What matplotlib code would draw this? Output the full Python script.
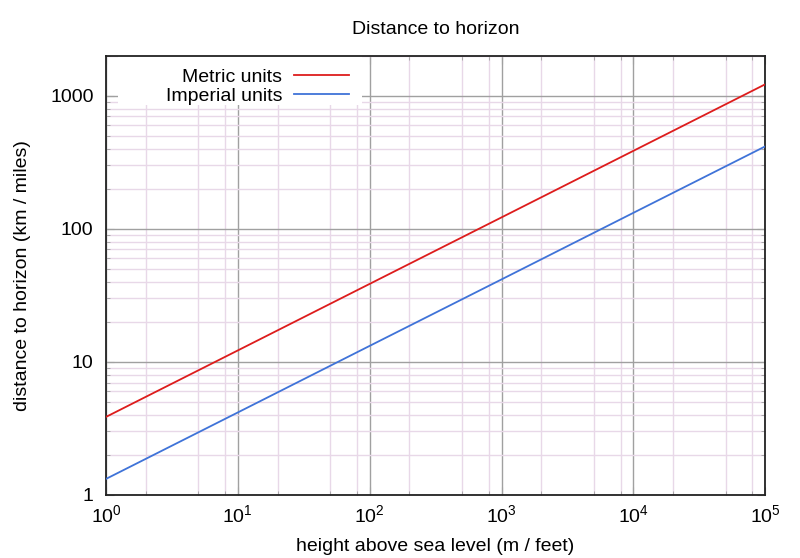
import math

import matplotlib
matplotlib.use('Agg')
import matplotlib.pyplot as plt
from matplotlib.patches import Rectangle
from matplotlib.ticker import LogLocator, FixedLocator, NullFormatter, FuncFormatter

plt.rcParams['font.family'] = ['Liberation Sans', 'DejaVu Sans']
plt.rcParams['mathtext.fontset'] = 'custom'
plt.rcParams['mathtext.rm'] = 'Liberation Sans'
plt.rcParams['mathtext.it'] = 'Liberation Sans'
plt.rcParams['mathtext.default'] = 'rm'

# values
heights = [1, 10, 100, 1000, 10000, 100000]
metric_km = [3.86, 12.2, 38.6, 122, 386, 1221]
imperial_mi = [1.32, 4.17, 13.2, 41.7, 132, 417]

x_minor = [m * 10 ** e for e in range(0, 5) for m in (2, 5, 8)]
y_ticks = [1, 10, 100, 1000]
y_tick_labels = ['1', '10', '100', '1000']

fig = plt.figure(figsize=(8, 5.58), dpi=100)
ax = fig.add_axes([0.1325, 0.113, 0.824, 0.787])

ax.plot(heights, metric_km, color='#dd1c1c', lw=1.3, label='Metric units', zorder=3)
ax.plot(heights, imperial_mi, color='#3f73d8', lw=1.3, label='Imperial units', zorder=3)

ax.set_xscale('log')
ax.set_yscale('log')
ax.set_xlim(1, 1e5)
ax.set_ylim(1, 2000)

ax.xaxis.set_major_locator(LogLocator(base=10, numticks=10))
ax.xaxis.set_major_formatter(FuncFormatter(lambda v, p: '10$^{%d}$' % round(math.log10(v))))
ax.xaxis.set_minor_locator(FixedLocator(x_minor))
ax.xaxis.set_minor_formatter(NullFormatter())
ax.yaxis.set_major_locator(FixedLocator(y_ticks))
ax.yaxis.set_major_formatter(FuncFormatter(lambda v, p: y_tick_labels[y_ticks.index(v)] if v in y_ticks else ''))
ax.yaxis.set_minor_locator(LogLocator(base=10, subs=range(2, 10), numticks=20))
ax.yaxis.set_minor_formatter(NullFormatter())

ax.grid(which='major', color='#a0a0a0', lw=1.0)
ax.grid(which='minor', color='#e8d8e8', lw=1.0)
ax.set_axisbelow(True)

ax.tick_params(which='both', direction='in', top=True, right=True, labelsize=14, color='#a0a0a0')
ax.tick_params(which='major', length=6)
ax.tick_params(axis='y', which='major', pad=9)
ax.tick_params(axis='x', which='major', pad=7)
ax.tick_params(which='minor', length=3)
for s in ax.spines.values():
    s.set_linewidth(1.3)
    s.set_color('#222222')

ax.set_title('Distance to horizon', fontsize=14, pad=16)
ax.set_xlabel('height above sea level (m / feet)', fontsize=14, labelpad=8)
ax.set_ylabel('distance to horizon (km / miles)', fontsize=14, labelpad=14)

# white key box behind the legend, as in gnuplot
ax.add_patch(Rectangle((0.018, 0.888), 0.37, 0.112, transform=ax.transAxes,
                       facecolor='white', edgecolor='none', zorder=1))

leg = ax.legend(loc='upper right', bbox_to_anchor=(0.369, 0.971), markerfirst=False,
                fontsize=14, frameon=False, handlelength=2.85,
                handletextpad=0.6, borderpad=0.0, labelspacing=0.05,
                borderaxespad=0.0)
for t in leg.get_texts():
    t.set_ha('right')

fig.savefig('out.png', dpi=100)
